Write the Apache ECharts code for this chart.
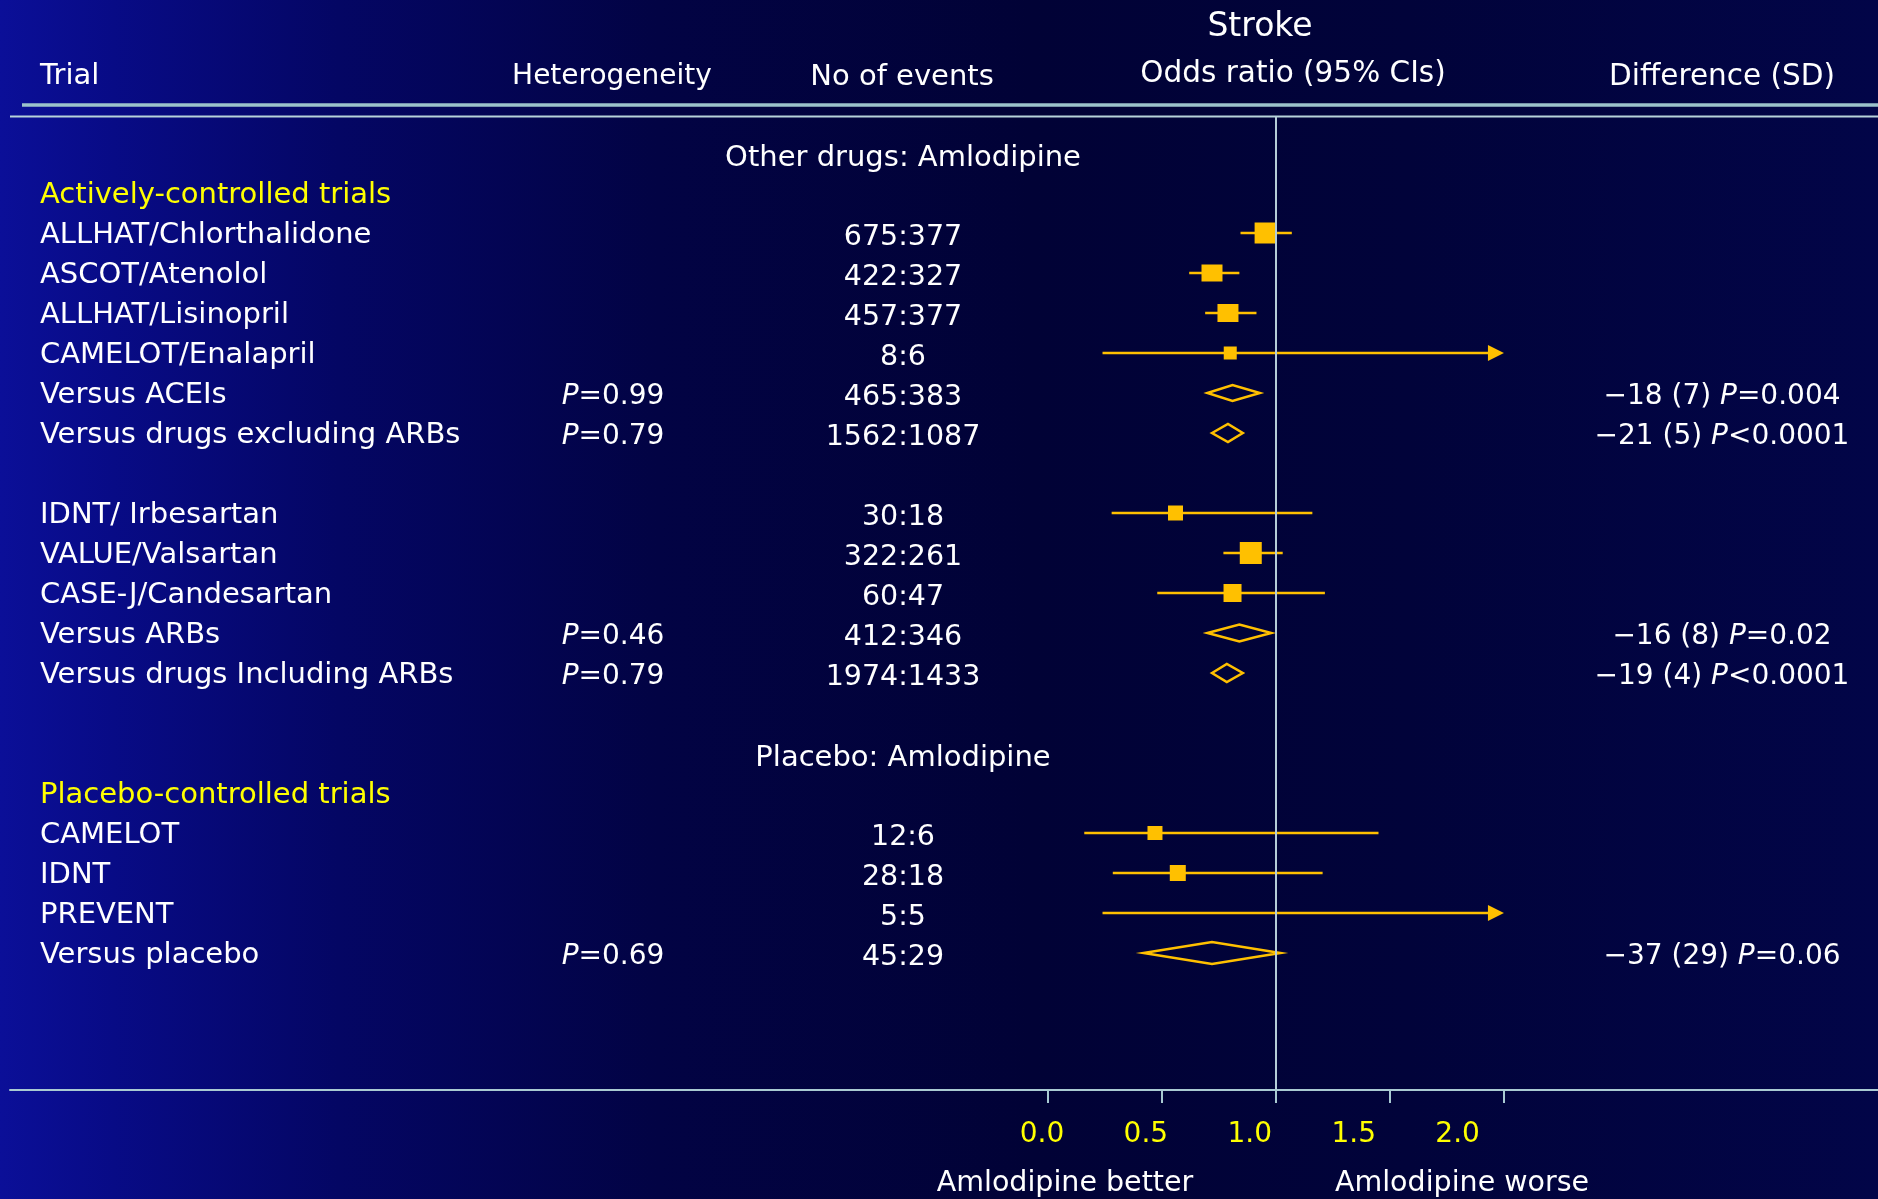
<!DOCTYPE html>
<html>
<head>
<meta charset="utf-8">
<script src="https://cdn.jsdelivr.net/npm/echarts@6/dist/echarts.min.js"></script>
<style>
html,body{margin:0;padding:0;background:#02032c;}
#c{width:1878px;height:1199px;}
</style>
</head>
<body>
<div id="c"></div>
<script>
// ---------------- DATA ----------------
const trialNames = ['ALLHAT/Chlorthalidone','ASCOT/Atenolol','ALLHAT/Lisinopril','CAMELOT/Enalapril',
  'Versus ACEIs','Versus drugs excluding ARBs','IDNT/ Irbesartan','VALUE/Valsartan','CASE-J/Candesartan',
  'Versus ARBs','Versus drugs Including ARBs','CAMELOT','IDNT','PREVENT','Versus placebo'];
const rowIndex = [2,3,4,5,6,7,9,10,11,12,13,17,18,19,20];
const rowType = ['trial','trial','trial','trial','pooled','pooled','trial','trial','trial','pooled','pooled','trial','trial','trial','pooled'];
const heterogeneityP = [null,null,null,null,'0.99','0.79',null,null,null,'0.46','0.79',null,null,null,'0.69'];
const events = ['675:377','422:327','457:377','8:6','465:383','1562:1087','30:18','322:261','60:47','412:346','1974:1433','12:6','28:18','5:5','45:29'];
const oddsRatio = [0.955,0.72,0.79,0.80,0.81,0.79,0.56,0.89,0.81,0.84,0.785,0.47,0.57,null,0.72];
const ciLow  = [0.845,0.62,0.69,0.24,0.70,0.72,0.28,0.77,0.48,0.70,0.72,0.16,0.285,0.24,0.42];
const ciHigh = [1.07,0.84,0.915,2.6,0.93,0.855,1.16,1.03,1.215,0.98,0.855,1.45,1.205,2.6,1.02];
const diffValue = [null,null,null,null,-18,-21,null,null,null,-16,-19,null,null,null,-37];
const diffSD    = [null,null,null,null,7,5,null,null,null,8,4,null,null,null,29];
const diffP     = [null,null,null,null,'=0.004','<0.0001',null,null,null,'=0.02','<0.0001',null,null,null,'=0.06'];
const sectionLabels = ['Other drugs: Amlodipine','Placebo: Amlodipine'];
const sectionRows = [0,15];
const groupLabels = ['Actively-controlled trials','Placebo-controlled trials'];
const groupRows = [1,16];
const orTicks = [0,0.5,1.0,1.5,2.0];
const axisCap = 2.0;
const headers = ['Trial','Heterogeneity','No of events','Odds ratio (95% CIs)','Difference (SD)'];
const plotTitle = 'Stroke';
const favourLabels = ['Amlodipine better','Amlodipine worse'];

// ---------------- STYLE ----------------
const gold = '#ffc000';
const yellow = '#ffff00';
const lineCol = '#a9cad2';
const FONT = 'DejaVu Sans';
const boxSize = [[22,21],[21,17],[21,18],[13,13],null,null,[15,15],[22,22],[18,18],null,null,[15,14],[16,16],null,null];
const diamondH = [null,null,null,null,16,18,null,null,null,17,18,null,null,null,22];
const colX = {trial:40, het:613, events:903, diff:1722};

const chart = echarts.init(document.getElementById('c'), null, {renderer:'canvas'});

function textSeries(items, align, color, size, dy) {
  return {
    type:'custom', xAxisIndex:2, yAxisIndex:0, silent:true, z:5,
    data: items.map((d,i)=>[d[0], d[1], i]),
    renderItem: function(params, api) {
      const idx = api.value(2);
      const p = api.coord([api.value(0), api.value(1)]);
      return {
        type:'text', x:p[0], y:p[1] + dy,
        style:{
          text: items[idx][2], fill: color, fontSize: size, fontFamily: FONT,
          align: align, verticalAlign:'middle',
          rich:{ i:{fontStyle:'italic', fontSize:size, fontFamily:FONT, fill:color} }
        }
      };
    }
  };
}

const trialItems = trialNames.map((t,i)=>[colX.trial, rowIndex[i], t]);
const groupItems = groupLabels.map((t,i)=>[colX.trial, groupRows[i], t]);
const sectionItems = sectionLabels.map((t,i)=>[colX.events, sectionRows[i], t]);
const hetItems = [];
heterogeneityP.forEach((p,i)=>{ if(p!=null) hetItems.push([colX.het, rowIndex[i], '{i|P}=' + p]); });
const eventItems = events.map((e,i)=>[colX.events, rowIndex[i], e]);
const diffItems = [];
diffValue.forEach((v,i)=>{ if(v!=null) diffItems.push([colX.diff, rowIndex[i],
  (v<0?'\u2212':'') + Math.abs(v) + ' (' + diffSD[i] + ') {i|P}' + diffP[i]]); });

const ciData = [];
rowIndex.forEach((r,i)=>{ if(rowType[i]==='trial') ciData.push([ciLow[i], r, ciHigh[i], i]); });
const boxData = [];
rowIndex.forEach((r,i)=>{ if(rowType[i]==='trial' && oddsRatio[i]!=null) boxData.push([oddsRatio[i], r, i]); });
const diaData = [];
rowIndex.forEach((r,i)=>{ if(rowType[i]==='pooled') diaData.push([oddsRatio[i], r, ciLow[i], ciHigh[i], i]); });

const option = {
  backgroundColor: new echarts.graphic.LinearGradient(0, 0, 1, 0, [
    {offset:0, color:'#0b0f98'},
    {offset:0.06, color:'#080b86'},
    {offset:0.18, color:'#040664'},
    {offset:0.35, color:'#020344'},
    {offset:0.55, color:'#010236'},
    {offset:0.75, color:'#01033a'},
    {offset:1, color:'#020548'}
  ]),
  animation:false,
  grid:[{left:10, right:0, top:117, bottom:109, containLabel:false, outerBoundsMode:'none'}],
  xAxis:[
    {type:'value', gridIndex:0, min:-4.55, max:3.64, position:'bottom',
     axisLine:{show:true, onZero:false, lineStyle:{color:lineCol, width:2}},
     axisTick:{show:true, customValues:orTicks, length:13, lineStyle:{color:lineCol, width:2}},
     axisLabel:{show:false}, splitLine:{show:false}},
    {type:'value', gridIndex:0, min:-4.966, max:4.023, position:'bottom',
     axisLine:{show:false}, axisTick:{show:false}, splitLine:{show:false},
     axisLabel:{show:true, customValues:orTicks, formatter:v=>v.toFixed(1), color:yellow,
       fontSize:28, fontFamily:FONT, margin:31}},
    {type:'value', gridIndex:0, min:10, max:1878, show:false}
  ],
  yAxis:[{type:'value', gridIndex:0, min:-0.9, max:23.425, inverse:true, show:false}],
  graphic:[
    {type:'line', shape:{x1:22,y1:105,x2:1878,y2:105}, style:{stroke:'#9cc3cb', lineWidth:3.5}},
    {type:'line', shape:{x1:10,y1:116.5,x2:1878,y2:116.5}, style:{stroke:'#b7d3da', lineWidth:2}},
    {type:'text', x:1260, y:27, style:{text:plotTitle, fill:'#fff', fontSize:33, fontFamily:FONT, align:'center', verticalAlign:'middle'}},
    {type:'text', x:40, y:76, style:{text:headers[0], fill:'#fff', fontSize:29, fontFamily:FONT, align:'left', verticalAlign:'middle'}},
    {type:'text', x:612, y:77, style:{text:headers[1], fill:'#fff', fontSize:28, fontFamily:FONT, align:'center', verticalAlign:'middle'}},
    {type:'text', x:902, y:77, style:{text:headers[2], fill:'#fff', fontSize:29, fontFamily:FONT, align:'center', verticalAlign:'middle'}},
    {type:'text', x:1293, y:74, style:{text:headers[3], fill:'#fff', fontSize:29.5, fontFamily:FONT, align:'center', verticalAlign:'middle'}},
    {type:'text', x:1722, y:77, style:{text:headers[4], fill:'#fff', fontSize:29.5, fontFamily:FONT, align:'center', verticalAlign:'middle'}},
    {type:'text', x:1065, y:1184, style:{text:favourLabels[0], fill:'#fff', fontSize:28.5, fontFamily:FONT, align:'center', verticalAlign:'middle'}},
    {type:'text', x:1462, y:1184, style:{text:favourLabels[1], fill:'#fff', fontSize:28.5, fontFamily:FONT, align:'center', verticalAlign:'middle'}}
  ],
  series:[
    {type:'custom', xAxisIndex:0, yAxisIndex:0, silent:true, z:2,
     data: ciData, encode:{x:[0,2], y:1},
     renderItem:function(params, api){
       const lo = api.value(0), r = api.value(1), hi = api.value(2);
       const p0 = api.coord([lo, r]);
       const p1 = api.coord([Math.min(hi, axisCap), r]);
       const ch = [];
       if (hi > axisCap) {
         ch.push({type:'line', shape:{x1:p0[0], y1:p0[1], x2:p1[0]-12, y2:p1[1]}, style:{stroke:gold, lineWidth:2.5}});
         ch.push({type:'polygon', shape:{points:[[p1[0],p1[1]],[p1[0]-16,p1[1]-8],[p1[0]-16,p1[1]+8]]}, style:{fill:gold}});
       } else {
         ch.push({type:'line', shape:{x1:p0[0], y1:p0[1], x2:p1[0], y2:p1[1]}, style:{stroke:gold, lineWidth:2.5}});
       }
       return {type:'group', children:ch};
     }},
    {type:'line', xAxisIndex:0, yAxisIndex:0, data:[], silent:true, z:3,
     markLine:{silent:true, symbol:['none','none'], label:{show:false},
       lineStyle:{color:'#b5cdd8', width:2, type:'solid'}, data:[{xAxis:1}]}},
    {type:'scatter', xAxisIndex:0, yAxisIndex:0, silent:true, z:4, symbol:'rect',
     data: boxData, symbolSize:function(val){ return boxSize[val[2]]; },
     itemStyle:{color:gold, opacity:1}},
    {type:'custom', xAxisIndex:0, yAxisIndex:0, silent:true, z:4,
     data: diaData, encode:{x:[0,2,3], y:1},
     renderItem:function(params, api){
       const est = api.value(0), r = api.value(1), lo = api.value(2), hi = api.value(3);
       const h = diamondH[api.value(4)] / 2;
       const pl = api.coord([lo, r]), pe = api.coord([est, r]), ph = api.coord([hi, r]);
       return {type:'polygon', shape:{points:[[pl[0],pl[1]],[pe[0],pe[1]-h],[ph[0],ph[1]],[pe[0],pe[1]+h]]},
         style:{fill:'none', stroke:gold, lineWidth:2.5}};
     }},
    textSeries(trialItems, 'left', '#ffffff', 29, 2),
    textSeries(groupItems, 'left', yellow, 29, 2),
    textSeries(sectionItems, 'center', '#ffffff', 29, 5),
    textSeries(hetItems, 'center', '#ffffff', 28, 4),
    textSeries(eventItems, 'center', '#ffffff', 28.5, 5),
    textSeries(diffItems, 'center', '#ffffff', 28, 4)
  ]
};
chart.setOption(option);
</script>
</body>
</html>
